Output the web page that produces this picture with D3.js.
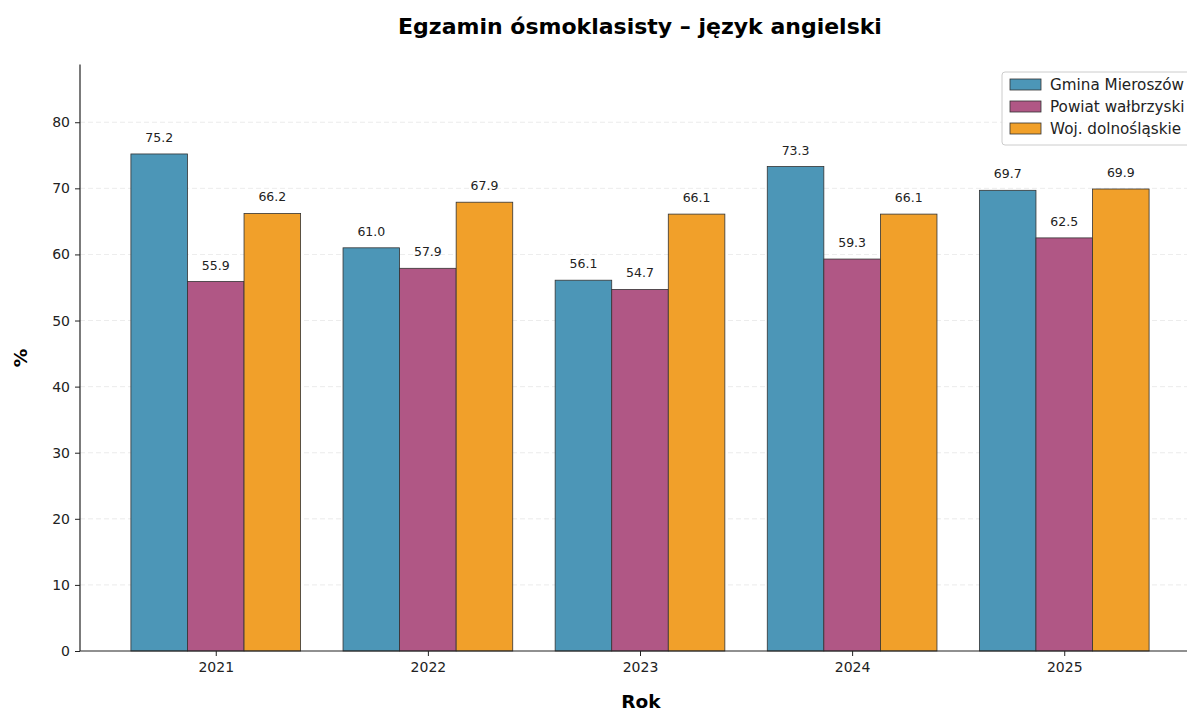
<!DOCTYPE html>
<html>
<head>
<meta charset="utf-8">
<script src="https://cdn.jsdelivr.net/npm/d3@7"></script>
<style>
  body { margin: 0; background: #fff; }
  svg { font-family: "DejaVu Sans", sans-serif; }
</style>
</head>
<body>
<svg id="chart" width="1187" height="711"></svg>
<script>
// ---- data ----
const years = ["2021", "2022", "2023", "2024", "2025"];
const seriesNames = ["Gmina Mieroszów", "Powiat wałbrzyski", "Woj. dolnośląskie"];
const gmina = [75.2, 61.0, 56.1, 73.3, 69.7];
const powiat = [55.9, 57.9, 54.7, 59.3, 62.5];
const woj = [66.2, 67.9, 66.1, 66.1, 69.9];
const colors = ["#4c96b7", "#b05785", "#f1a02a"];
const yTicks = [0, 10, 20, 30, 40, 50, 60, 70, 80];

const series = [gmina, powiat, woj];
const barW = 0.8 / 3;

const svg = d3.select("#chart");

// ---- scales ----
const x = d3.scaleLinear().domain([-0.64, 4.64]).range([80, 1200]);
const y = d3.scaleLinear().domain([0, 75.2 * 1.18]).range([651, 64.5]);

// ---- grid ----
svg.append("g").selectAll("line").data(yTicks.slice(1)).join("line")
  .attr("x1", 80).attr("x2", 1200)
  .attr("y1", d => y(d)).attr("y2", d => y(d))
  .attr("stroke", "#ddd").attr("stroke-width", 0.8)
  .attr("stroke-dasharray", "5,3").attr("opacity", 0.7);

// ---- bars ----
series.forEach((vals, s) => {
  const off = (s - 1) * barW;
  const g = svg.append("g");
  g.selectAll("rect").data(vals).join("rect")
    .attr("x", (d, i) => x(i + off - barW / 2))
    .attr("width", x(barW) - x(0))
    .attr("y", d => y(d))
    .attr("height", d => y(0) - y(d))
    .attr("fill", colors[s])
    .attr("stroke", "#333").attr("stroke-width", 0.8);
  g.selectAll("text").data(vals).join("text")
    .attr("x", (d, i) => x(i + off))
    .attr("y", d => y(d) - 12)
    .attr("text-anchor", "middle")
    .attr("font-size", 12.5).attr("fill", "#222")
    .text(d => d.toFixed(1));
});

// ---- axes ----
const yAxis = svg.append("g").attr("transform", "translate(80,0)")
  .call(d3.axisLeft(y).tickValues(yTicks).tickSize(5).tickPadding(5));
yAxis.select(".domain").attr("d", `M0,${y(0)}V${y.range()[1]}`).attr("stroke", "#222").attr("stroke-width", 1.2);
yAxis.selectAll(".tick line").attr("stroke", "#222");
yAxis.selectAll(".tick text").attr("font-size", 14).attr("fill", "#222").attr("font-family", "DejaVu Sans");

const xAxis = svg.append("g").attr("transform", `translate(0,${y(0)})`)
  .call(d3.axisBottom(x).tickValues(d3.range(years.length)).tickFormat(i => years[i]).tickSize(5).tickPadding(6));
xAxis.select(".domain").attr("d", `M80,0H1200`).attr("stroke", "#222").attr("stroke-width", 1.2);
xAxis.selectAll(".tick line").attr("stroke", "#222");
xAxis.selectAll(".tick text").attr("font-size", 14).attr("fill", "#222").attr("font-family", "DejaVu Sans");

// ---- titles ----
svg.append("text").attr("x", 640).attr("y", 34).attr("text-anchor", "middle")
  .attr("font-size", 22).attr("font-weight", "bold").text("Egzamin ósmoklasisty – język angielski");
svg.append("text").attr("x", 641).attr("y", 708).attr("text-anchor", "middle")
  .attr("font-size", 18.5).attr("font-weight", "bold").text("Rok");
svg.append("text").attr("transform", "translate(27,358) rotate(-90)").attr("text-anchor", "middle")
  .attr("font-size", 18.5).attr("font-weight", "bold").text("%");

// ---- legend ----
const lg = svg.append("g").attr("transform", "translate(1002,72)");
lg.append("rect").attr("width", 210).attr("height", 73).attr("rx", 3)
  .attr("fill", "#fff").attr("fill-opacity", 0.85).attr("stroke", "#ccc");
seriesNames.forEach((name, i) => {
  lg.append("rect").attr("x", 8).attr("y", 7 + i * 22).attr("width", 31).attr("height", 11)
    .attr("fill", colors[i]).attr("stroke", "#333").attr("stroke-width", 0.8);
  lg.append("text").attr("x", 48).attr("y", 18 + i * 22)
    .attr("font-size", 15.2).attr("fill", "#222").text(name);
});
</script>
</body>
</html>
